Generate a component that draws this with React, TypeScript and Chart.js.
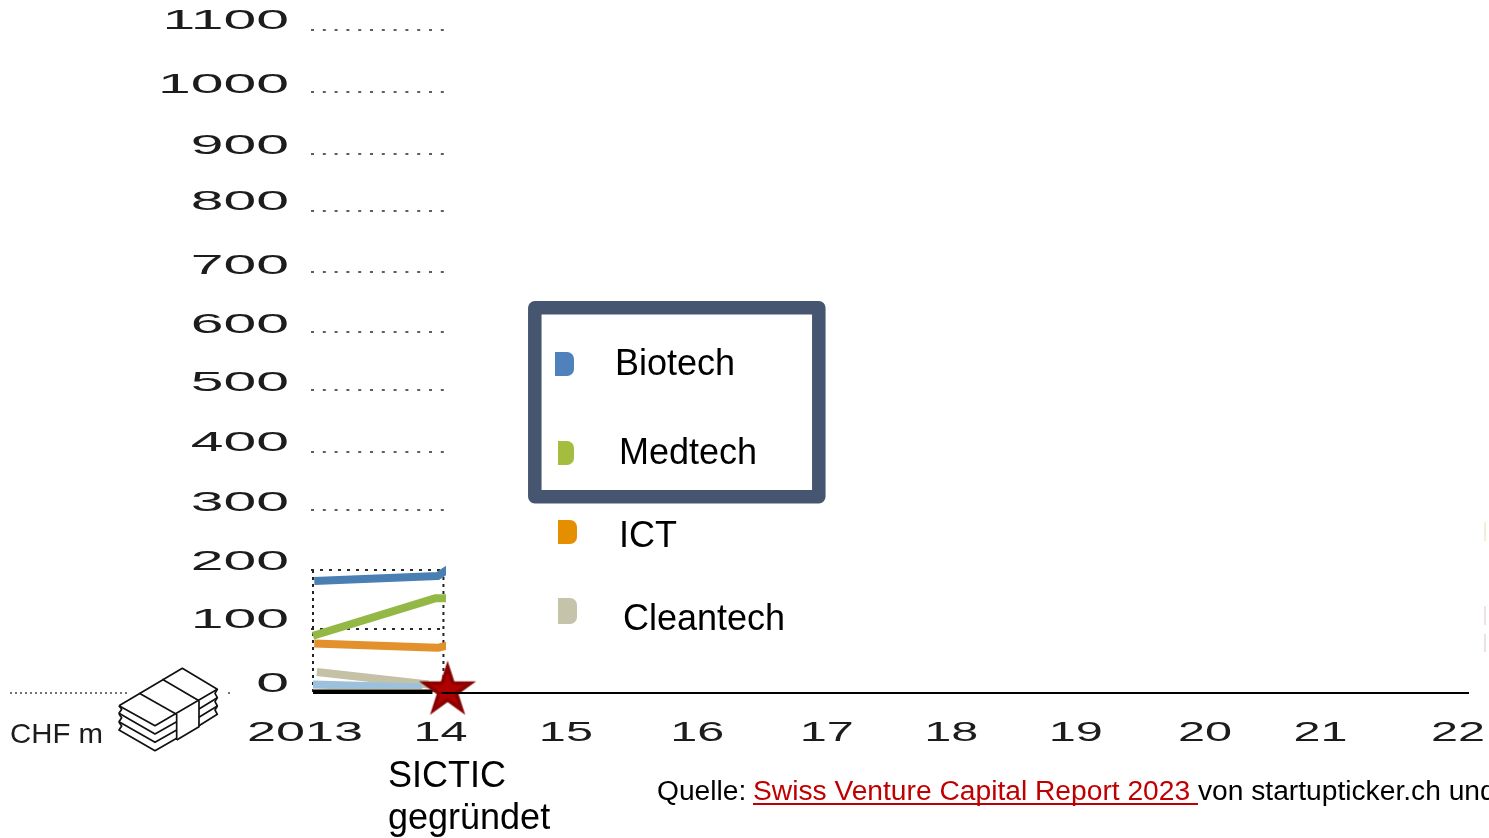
import React, { useEffect, useRef } from "react";
import { Chart, registerables } from "chart.js";

Chart.register(...registerables);

const W = 1489;
const H = 838;

// Data (CHF m)
const xLabels = ["2013", "14", "15", "16", "17", "18", "19", "20", "21", "22"];
const yTicks = [0, 100, 200, 300, 400, 500, 600, 700, 800, 900, 1000, 1100];
const biotechX = [2013.01, 2013.97, 2014.07];
const biotechY = [186, 194, 208];
const medtechX = [2013.0, 2013.95, 2014.07];
const medtechY = [95, 157, 157];
const ictX = [2013.01, 2013.97, 2014.07];
const ictY = [82, 75, 80];
const cleantechX = [2013.03, 2013.9];
const cleantechY = [35, 14];
const lightBlueX = [2013.0, 2013.85];
const lightBlueY = [14, 9];
const brownX = [2013.0, 2013.95];
const brownY = [4, 4];
const starX = [2014.048];
const starY = [4];
const legendNames = ["Biotech", "Medtech", "ICT", "Cleantech"];

// Hand adjustments of the reference's uneven tick placement
const xLabelNudge = [-8, -1, -4, -1, 0, -4, -8, -7, -20, -11];
const yLabelNudge = [-8, -11.7, -10, -9, -8, -8.5, -6, -5, -8, -3.5, -5, -8];
const yGridNudge = [0, -3.7, -2.5, -2, 0, -1.5, 1, 1, 0, 3.5, 2, 0];

const FONT = '"Liberation Sans", Arial, sans-serif';
const REVEAL_END = 2014.036;

const pts = (xs: number[], ys: number[]) => xs.map((x, i) => ({ x, y: ys[i] }));

function makeStar(): HTMLCanvasElement {
  const c = document.createElement("canvas");
  c.width = 64;
  c.height = 64;
  const g = c.getContext("2d")!;
  const path = (R: number) => {
    g.beginPath();
    for (let i = 0; i < 10; i++) {
      const r = i % 2 ? R * 0.382 : R;
      const a = -Math.PI / 2 + (i * Math.PI) / 5;
      const px = 32 + r * Math.cos(a);
      const py = 32 + r * Math.sin(a);
      if (i) g.lineTo(px, py);
      else g.moveTo(px, py);
    }
    g.closePath();
  };
  path(30);
  g.fillStyle = "#8a0000";
  g.fill();
  path(18);
  g.fillStyle = "#b00000";
  g.fill();
  return c;
}

function stretched(
  ctx: CanvasRenderingContext2D,
  text: string,
  x: number,
  y: number,
  sx: number,
  align: CanvasTextAlign
) {
  ctx.save();
  ctx.translate(x, y);
  ctx.scale(sx, 1);
  ctx.textAlign = align;
  ctx.textBaseline = "middle";
  ctx.fillText(text, 0, 0);
  ctx.restore();
}

function drawIcon(ctx: CanvasRenderingContext2D) {
  const line = (...a: [number, number][]) => {
    ctx.beginPath();
    a.forEach((q, i) => {
      const x = 105 + q[0] / 3;
      const y = 660 + q[1] / 3;
      if (i) ctx.lineTo(x, y);
      else ctx.moveTo(x, y);
    });
    ctx.stroke();
  };
  ctx.save();
  ctx.strokeStyle = "#111";
  ctx.lineWidth = 1.7;
  ctx.lineJoin = "round";
  line([42, 137], [232, 25], [337, 88], [150, 197], [42, 137]);
  line([103, 100], [213, 162]);
  line([172, 58], [282, 122]);
  for (let k = 0; k < 3; k++) {
    const d = k * 25;
    line([42, 137 + d], [50, 148 + d], [42, 160 + d], [150, 222 + d], [215, 185 + d]);
    line([337, 88 + d], [330, 100 + d], [337, 113 + d], [282, 147 + d]);
  }
  line([215, 162], [215, 240]);
  line([282, 122], [282, 200], [215, 240]);
  ctx.restore();
}

function legendMarker(
  ctx: CanvasRenderingContext2D,
  x: number,
  y: number,
  w: number,
  h: number,
  color: string
) {
  ctx.beginPath();
  ctx.roundRect(x, y, w, h, [0, 7, 7, 0]);
  ctx.fillStyle = color;
  ctx.fill();
}

const decorations = {
  id: "decorations",
  beforeDatasetDraw(chart: any, args: any) {
    const ds = chart.data.datasets[args.index];
    if (!ds.revealClip) return;
    const { ctx, scales } = chart;
    ctx.save();
    ctx.beginPath();
    ctx.rect(0, 0, scales.x.getPixelForValue(REVEAL_END), H);
    ctx.clip();
  },
  afterDatasetDraw(chart: any, args: any) {
    const ds = chart.data.datasets[args.index];
    if (ds.revealClip) chart.ctx.restore();
  },
  beforeDatasetsDraw(chart: any) {
    const { ctx, scales } = chart;
    const xs = scales.x;
    const ys = scales.y;
    const x0 = xs.getPixelForValue(2013) - 2;
    const x1 = xs.getPixelForValue(2014) + 3;
    ctx.save();
    // Dotted horizontal guides, only over the revealed first year
    yTicks.forEach((v, i) => {
      const y = Math.round(ys.getPixelForValue(v) + yGridNudge[i]);
      const low = v <= 200;
      ctx.beginPath();
      ctx.setLineDash(low ? [3, 6] : [3, 8.8]);
      ctx.lineWidth = low ? 2 : 1.5;
      ctx.strokeStyle = "#2a2a2a";
      ctx.moveTo(x0, y);
      ctx.lineTo(x1, y);
      if (v > 0) ctx.stroke();
    });
    // Vertical dotted sides up to 200
    ctx.setLineDash([3, 4]);
    ctx.lineWidth = 2;
    ctx.strokeStyle = "#222";
    const top = ys.getPixelForValue(200) + yGridNudge[2];
    [x0 + 2, x1 - 1].forEach((x) => {
      ctx.beginPath();
      ctx.moveTo(x, top);
      ctx.lineTo(x, ys.getPixelForValue(0));
      ctx.stroke();
    });
    ctx.restore();
  },
  afterDatasetsDraw(chart: any) {
    const { ctx, scales, chartArea } = chart;
    const xs = scales.x;
    const ys = scales.y;
    const y0 = ys.getPixelForValue(0);

    ctx.save();
    // Axis line
    ctx.strokeStyle = "#000";
    ctx.lineWidth = 2;
    ctx.beginPath();
    ctx.moveTo(xs.getPixelForValue(2014), y0);
    ctx.lineTo(chartArea.right, y0);
    ctx.stroke();
    ctx.lineWidth = 4;
    ctx.beginPath();
    ctx.moveTo(xs.getPixelForValue(2013), y0 - 1);
    ctx.lineTo(xs.getPixelForValue(2013.93), y0 - 1);
    ctx.stroke();

    // Left dotted stub
    ctx.setLineDash([2, 3]);
    ctx.lineWidth = 1.5;
    ctx.strokeStyle = "#444";
    ctx.beginPath();
    ctx.moveTo(10, y0);
    ctx.lineTo(127, y0);
    ctx.moveTo(228, y0);
    ctx.lineTo(230, y0);
    ctx.stroke();
    ctx.setLineDash([]);

    // Tick labels, horizontally stretched as in the reference
    ctx.fillStyle = "#1c1c1c";
    ctx.font = `27px ${FONT}`;
    yTicks.forEach((v, i) => {
      stretched(ctx, String(v), 289, ys.getPixelForValue(v) + yLabelNudge[i], 2.18, "right");
    });
    xLabels.forEach((t, i) => {
      stretched(ctx, t, xs.getPixelForValue(2013 + i) + xLabelNudge[i], 734, i === 0 ? 1.93 : 1.8, "center");
    });

    // Unit and icon
    ctx.font = `28px ${FONT}`;
    stretched(ctx, "CHF m", 10, 735, 1.05, "left");
    drawIcon(ctx);

    // Legend frame
    ctx.strokeStyle = "#465670";
    ctx.lineWidth = 13.5;
    ctx.lineJoin = "round";
    ctx.strokeRect(534.8, 307.8, 284, 189);

    legendMarker(ctx, 555, 352, 19, 24, "#4f81bd");
    legendMarker(ctx, 558, 441, 16, 24, "#a4bd3f");
    legendMarker(ctx, 558, 520, 19, 24, "#e58f00");
    legendMarker(ctx, 558, 598, 19, 26, "#c6c3ab");

    ctx.fillStyle = "#000";
    ctx.textAlign = "left";
    ctx.textBaseline = "alphabetic";
    ctx.font = `36px ${FONT}`;
    ctx.fillText(legendNames[0], 615, 375);
    ctx.fillText(legendNames[1], 619, 464);
    ctx.fillText(legendNames[2], 619, 547);
    ctx.fillText(legendNames[3], 623, 630);

    // Annotation
    ctx.fillText("SICTIC", 388, 787);
    ctx.fillText("gegründet", 388, 829);

    // Source line
    ctx.font = `28.2px ${FONT}`;
    ctx.fillText("Quelle: ", 657, 800);
    const link = "Swiss Venture Capital Report 2023 ";
    ctx.fillStyle = "#c00000";
    ctx.fillText(link, 753, 800);
    const lw = ctx.measureText(link).width;
    ctx.fillRect(753, 803, lw, 2);
    ctx.fillStyle = "#000";
    ctx.fillText("von startupticker.ch und", 753 + lw, 800);

    // Faint slivers at the right edge
    ctx.fillStyle = "#f3efd6";
    ctx.fillRect(1484, 522, 2, 19);
    ctx.fillStyle = "#ece4e4";
    ctx.fillRect(1484, 606, 2, 19);
    ctx.fillRect(1484, 634, 2, 18);
    ctx.restore();
  },
};

const lineSet = (label: string, xs: number[], ys: number[], color: string, width: number) => ({
  label,
  data: pts(xs, ys),
  borderColor: color,
  backgroundColor: color,
  borderWidth: width,
  pointRadius: 0,
  tension: 0,
  fill: false,
  clip: false as const,
  borderCapStyle: "butt" as const,
  borderJoinStyle: "round" as const,
  revealClip: true,
});

export default function App() {
  const ref = useRef<HTMLCanvasElement>(null);
  useEffect(() => {
    const chart = new Chart(ref.current!, {
      type: "line",
      data: {
        datasets: [
          {
            label: "SICTIC gegründet",
            data: pts(starX, starY),
            pointStyle: makeStar(),
            pointRadius: 30,
            showLine: false,
            order: -1,
            clip: false,
          } as any,
          lineSet("Other", brownX, brownY, "#8b7a5e", 3),
          lineSet("Other 2", lightBlueX, lightBlueY, "#9cc1dc", 8),
          lineSet(legendNames[3], cleantechX, cleantechY, "#c4c1a7", 8),
          lineSet(legendNames[2], ictX, ictY, "#e3912c", 8),
          lineSet(legendNames[1], medtechX, medtechY, "#93b845", 8),
          lineSet(legendNames[0], biotechX, biotechY, "#4a7fb3", 8),
        ],
      },
      options: {
        responsive: false,
        animation: false,
        events: [],
        layout: { autoPadding: false, padding: { left: 313, right: 20, top: 30, bottom: H - 693 } },
        plugins: { legend: { display: false }, tooltip: { enabled: false } },
        scales: {
          x: {
            type: "linear",
            display: false,
            min: 2013,
            max: 2022,
            ticks: { stepSize: 1 },
          },
          y: {
            type: "linear",
            display: false,
            min: 0,
            max: 1100,
            ticks: { stepSize: 100 },
          },
        },
      },
      plugins: [decorations],
    });
    return () => chart.destroy();
  }, []);
  return (
    <div style={{ position: "fixed", inset: 0, background: "#fff", overflow: "hidden" }}>
      <canvas ref={ref} width={W} height={H} style={{ display: "block" }} />
    </div>
  );
}
